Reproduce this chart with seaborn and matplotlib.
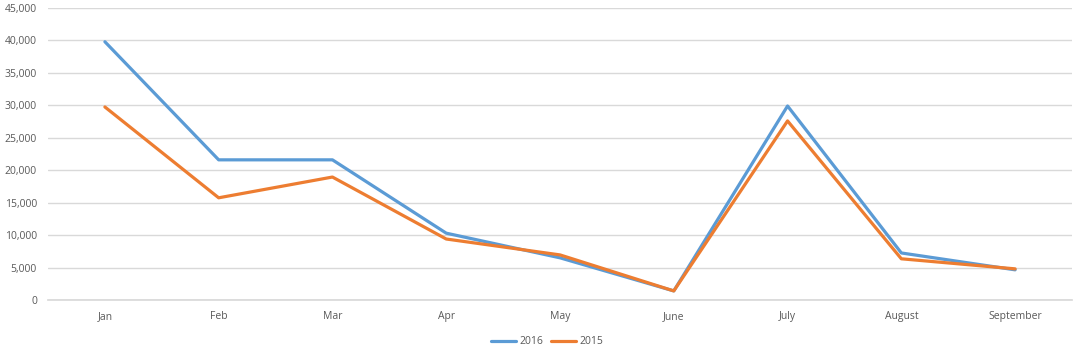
import matplotlib
matplotlib.use("Agg")
import matplotlib.pyplot as plt
import seaborn as sns
import pandas as pd
from matplotlib.ticker import FuncFormatter, MultipleLocator

months = ["Jan", "Feb", "Mar", "Apr", "May", "June", "July", "August", "September"]
values_2016 = [39800, 21600, 21600, 10300, 6500, 1400, 29900, 7250, 4650]
values_2015 = [29750, 15750, 18950, 9400, 6950, 1400, 27600, 6350, 4800]
series_names = ["2016", "2015"]

rows = []
for name, vals in zip(series_names, [values_2016, values_2015]):
    for i, (m, v) in enumerate(zip(months, vals)):
        rows.append({"idx": i, "month": m, "value": v, "year": name})
df = pd.DataFrame(rows)

sns.set_theme(style="white")
plt.rcParams['font.family'] = ['Open Sans', 'DejaVu Sans']

fig = plt.figure(figsize=(10.74, 3.5), dpi=100)
ax = fig.add_axes([48/1074, 1 - 300/350, (1072-48)/1074, (300-8)/350])

sns.lineplot(data=df, x="idx", y="value", hue="year", hue_order=series_names,
             palette={"2016": "#5B9BD5", "2015": "#ED7D31"}, linewidth=2.3,
             ax=ax, legend=True, sort=False)

ax.set_xlim(-0.5, len(months) - 0.5)
ax.set_ylim(0, 45000)
ax.yaxis.set_major_locator(MultipleLocator(5000))
ax.yaxis.set_major_formatter(FuncFormatter(lambda v, p: f"{int(v):,}"))
ax.set_xticks(range(len(months)))
ax.set_xticklabels(months)
ax.grid(axis="y", color="#D9D9D9", linewidth=1)
ax.set_axisbelow(True)
for s in ["top", "right", "left"]:
    ax.spines[s].set_visible(False)
ax.spines["bottom"].set_color("#D9D9D9")
ax.tick_params(axis="both", length=0, labelsize=7.5, labelcolor="#595959")
ax.tick_params(axis="x", pad=8)
ax.tick_params(axis="y", pad=8)
ax.set_xlabel("")
ax.set_ylabel("")

handles, labels = ax.get_legend_handles_labels()
ax.legend(handles, labels, loc="center", bbox_to_anchor=(0.5 + 10/1074, 1 - 342/350),
          bbox_transform=fig.transFigure, ncol=2, frameon=False, fontsize=7.5,
          labelcolor="#595959", handlelength=2.4, handletextpad=0.3, columnspacing=0.8)

fig.savefig("out.png", dpi=100)
